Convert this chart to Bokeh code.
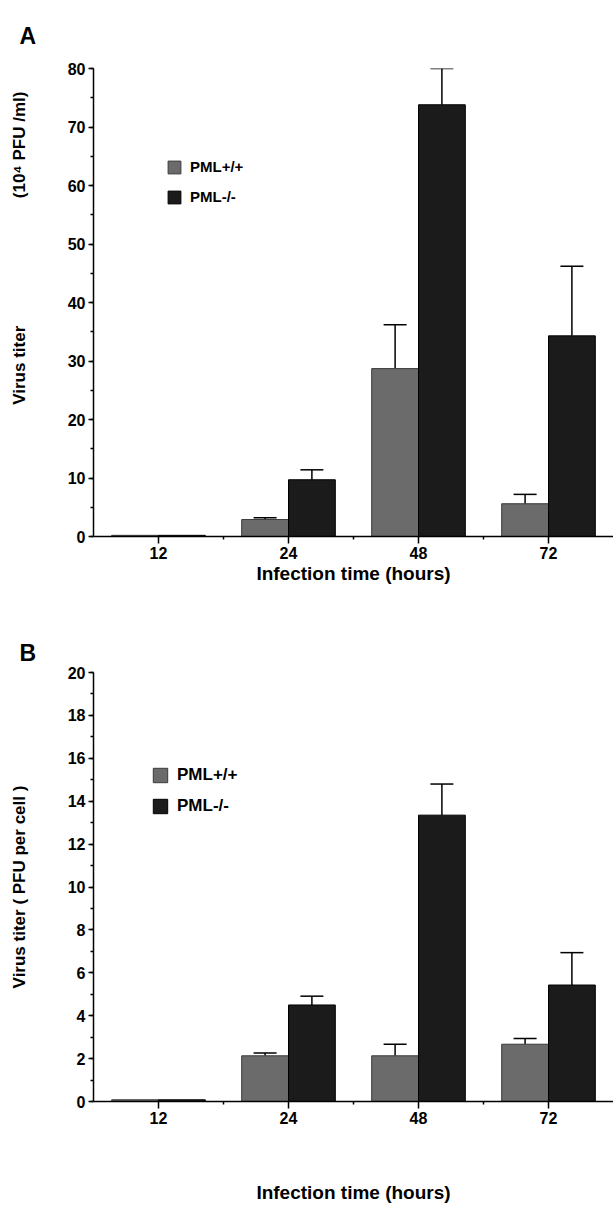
import numpy as np
from bokeh.plotting import figure
from bokeh.models import (ColumnDataSource, Whisker, TeeHead, FixedTicker, SingleIntervalTicker,
                          Legend, LegendItem, Range1d)
from bokeh.layouts import column
from bokeh.embed import file_html
from bokeh.resources import INLINE

# ---- data ----
hours = ["12", "24", "48", "72"]
series = ["PML+/+", "PML-/-"]

a_wt = [0.2, 2.9, 28.7, 5.6]
a_wt_err = [0.0, 0.3, 7.5, 1.6]
a_ko = [0.2, 9.7, 73.8, 34.3]
a_ko_err = [0.0, 1.7, 6.2, 11.9]

b_wt = [0.08, 2.13, 2.13, 2.67]
b_wt_err = [0.0, 0.13, 0.54, 0.27]
b_ko = [0.08, 4.5, 13.35, 5.43]
b_ko_err = [0.0, 0.41, 1.45, 1.51]

FONT = "Liberation Sans"
GRAY = "#6b6b6b"
BLACK = "#1b1b1b"
BAR_W = 0.36
NB = "\u00a0"


def make_panel(letter, wt, wt_err, ko, ko_err, ymax, major, height, ylabel,
               legend_cfg, letter_standoff, xtitle_standoff, min_bottom, min_top):
    p = figure(width=613, height=height, output_backend="svg", toolbar_location=None,
               x_range=Range1d(0.5, 4.5), y_range=Range1d(0, ymax),
               min_border_left=93, min_border_right=0, min_border_top=min_top,
               min_border_bottom=min_bottom)
    p.xgrid.visible = False
    p.ygrid.visible = False
    p.outline_line_color = None
    p.background_fill_color = "white"

    p.title.text = letter
    p.title.align = "left"
    p.title.offset = -74
    p.title.standoff = letter_standoff
    p.title.text_font = FONT
    p.title.text_font_style = "bold"
    p.title.text_font_size = "23px"
    p.title.text_color = "black"

    pos = [float(i + 1) for i in range(len(hours))]
    x_wt = [v - BAR_W / 2 for v in pos]
    x_ko = [v + BAR_W / 2 for v in pos]
    src_wt = ColumnDataSource(dict(x=x_wt, top=wt))
    src_ko = ColumnDataSource(dict(x=x_ko, top=ko))
    r_wt = p.vbar(x="x", top="top", width=BAR_W, bottom=0, source=src_wt,
                  fill_color=GRAY, line_color="#3a3a3a", line_width=1)
    r_ko = p.vbar(x="x", top="top", width=BAR_W, bottom=0, source=src_ko,
                  fill_color=BLACK, line_color="#000000", line_width=1)

    for xs, vals, errs in ((x_wt, wt, wt_err), (x_ko, ko, ko_err)):
        keep = [i for i, e in enumerate(errs) if e > 0]
        es = ColumnDataSource(dict(x=[xs[i] for i in keep],
                                   lo=[vals[i] for i in keep],
                                   hi=[vals[i] + errs[i] for i in keep]))
        w = Whisker(base="x", lower="lo", upper="hi", source=es,
                    line_color="black", line_width=1.5,
                    lower_head=None,
                    upper_head=TeeHead(size=23, line_color="black", line_width=1.5))
        p.add_layout(w)

    # x axis: labels at category centres, minor ticks at boundaries
    xa = p.xaxis[0]
    xa.ticker = FixedTicker(ticks=pos, minor_ticks=[1.5, 2.5, 3.5])
    xa.major_label_overrides = {int(k): h for k, h in zip(pos, hours)}
    xa.axis_label = "Infection time (hours)"
    xa.axis_label_text_font = FONT
    xa.axis_label_text_font_style = "bold"
    xa.axis_label_text_font_size = "19px"
    xa.axis_label_text_color = "black"
    xa.axis_label_standoff = xtitle_standoff
    xa.major_label_text_font = FONT
    xa.major_label_text_font_style = "bold"
    xa.major_label_text_font_size = "16px"
    xa.major_label_text_color = "black"
    xa.major_label_standoff = 3
    xa.major_tick_out = 7
    xa.major_tick_in = 0
    xa.minor_tick_out = 3
    xa.minor_tick_in = 0
    xa.axis_line_width = 1.5
    xa.axis_line_color = "black"
    xa.major_tick_line_width = 1.5
    xa.minor_tick_line_width = 1.5

    ya = p.yaxis[0]
    ya.ticker = SingleIntervalTicker(interval=major, num_minor_ticks=2)
    ya.major_label_text_font = FONT
    ya.major_label_text_font_style = "bold"
    ya.major_label_text_font_size = "16px"
    ya.major_label_text_color = "black"
    ya.major_label_standoff = 3
    ya.major_tick_out = 5
    ya.major_tick_in = 0
    ya.minor_tick_out = 3
    ya.minor_tick_in = 0
    ya.axis_line_width = 1.5
    ya.axis_line_color = "black"
    ya.major_tick_line_width = 1.5
    ya.minor_tick_line_width = 1.5
    ya.axis_label = ylabel
    ya.axis_label_text_font = FONT
    ya.axis_label_text_font_style = "bold"
    ya.axis_label_text_font_size = "17px"
    ya.axis_label_text_color = "black"
    ya.axis_label_standoff = 36

    gw, spacing, fs, loc = legend_cfg
    leg = Legend(items=[LegendItem(label=series[0], renderers=[r_wt]),
                        LegendItem(label=series[1], renderers=[r_ko])],
                 location=loc, glyph_width=gw, glyph_height=gw, label_height=gw,
                 spacing=spacing, padding=0, margin=0, border_line_color=None,
                 background_fill_alpha=0, label_standoff=8,
                 label_text_font=FONT, label_text_font_style="bold",
                 label_text_font_size=fs, label_text_color="black")
    p.add_layout(leg)
    return p


ylabel_a = NB * 23 + "Virus titer" + NB * 27 + "(10\u2074 PFU /ml)"
pa = make_panel("A", a_wt, a_wt_err, a_ko, a_ko_err, 80, 10, 600, ylabel_a,
                (16, 13, "15px", (73, 331)), 39, 1, 64, 68)
pb = make_panel("B", b_wt, b_wt_err, b_ko, b_ko_err, 20, 2, 605,
                "Virus titer ( PFU per cell )",
                (18, 11, "17px", (58, 285)), 14, 55, 96, 72)

layout = column(pa, pb, spacing=0)
open("out.html", "w").write(file_html(layout, INLINE))
